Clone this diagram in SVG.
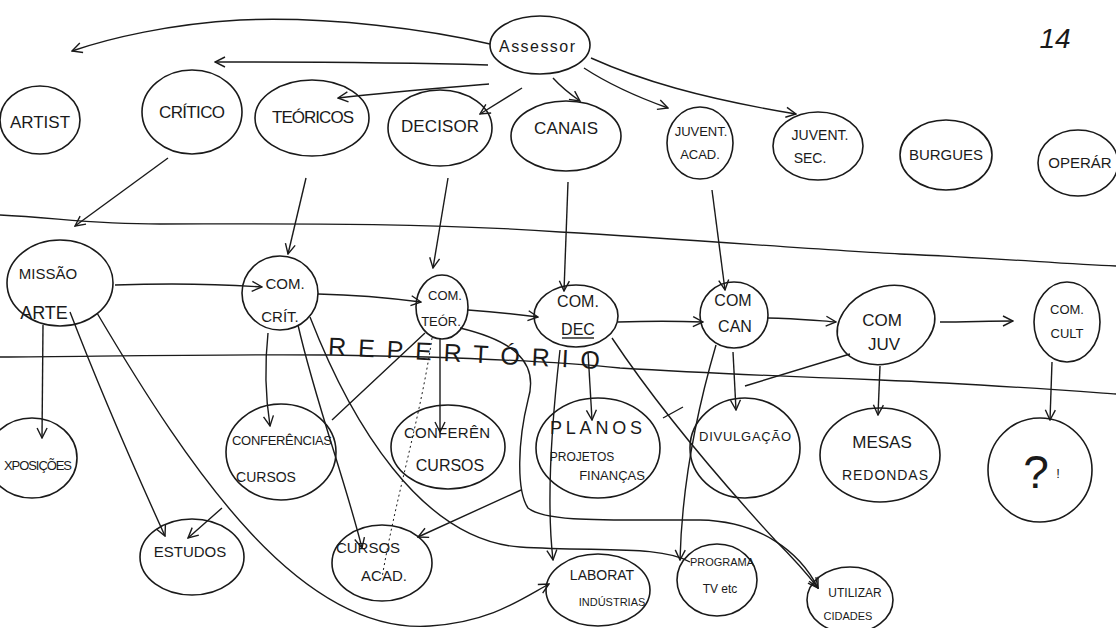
<svg xmlns="http://www.w3.org/2000/svg" width="1116" height="628" viewBox="0 0 1116 628">
<defs>
<marker id="ah" viewBox="0 0 12 12" refX="11" refY="6" markerWidth="12" markerHeight="12" markerUnits="userSpaceOnUse" orient="auto">
<path d="M1,1 L11,6 L1,11" fill="none" stroke="#1a1a1a" stroke-width="1.4"/>
</marker>
</defs>
<style>
.n{fill:none;stroke:#1a1a1a;stroke-width:1.6}
.c{fill:none;stroke:#1a1a1a;stroke-width:1.4}
.a{marker-end:url(#ah)}
.d{stroke-dasharray:2 3;stroke-width:1}
.r{fill:none;stroke:#1a1a1a;stroke-width:1.3}
text{font-family:"Liberation Sans","DejaVu Sans",sans-serif;fill:#1a1a1a;text-anchor:middle}
</style>
<rect width="1116" height="628" fill="#ffffff"/>
<text x="1055" y="48" font-size="28" font-style="italic">14</text>
<g id="rules">
<path class="r" d="M0,215 C60,218 90,224 160,224 C260,224 420,222 560,232 C700,240 820,250 900,254 C1000,258 1060,264 1116,266"/>
<path class="r" d="M0,357 C120,356 240,354 330,355 C460,357 560,362 620,368 C720,374 800,377 880,380 C980,384 1060,390 1116,394"/>
<text x="464" y="362" font-size="25" textLength="272" lengthAdjust="spacing" transform="rotate(3 464 355)">REPERTÓRIO</text>
</g>
<g id="connectors">
<path class="c a" d="M490,44 C430,30 330,16 240,20 C170,24 110,38 72,51"/>
<path class="c a" d="M488,65 C420,63 300,62 215,62"/>
<path class="c a" d="M489,84 C440,88 390,92 338,98"/>
<path class="c a" d="M522,88 L480,114"/>
<path class="c a" d="M553,78 C562,88 570,94 580,101"/>
<path class="c a" d="M584,68 C610,85 640,98 668,108"/>
<path class="c a" d="M591,58 C640,80 700,98 796,114"/>
<path class="c a" d="M168,158 L75,226"/>
<path class="c a" d="M306,178 L288,254"/>
<path class="c a" d="M448,178 L433,268"/>
<path class="c a" d="M568,182 L564,291"/>
<path class="c a" d="M712,190 L725,290"/>
<path class="c a" d="M115,285 C170,283 220,284 262,287"/>
<path class="c a" d="M318,294 C360,295 390,298 421,302"/>
<path class="c a" d="M468,310 C495,312 515,314 538,317"/>
<path class="c a" d="M618,322 C650,321 675,321 703,322"/>
<path class="c a" d="M768,318 C790,318 810,320 836,322"/>
<path class="c a" d="M940,322 C965,322 990,321 1013,321"/>
<path class="c a" d="M43,325 L42,438"/>
<path class="c a" d="M70,312 C100,390 135,470 165,536"/>
<path class="c a" d="M97,313 C190,470 300,635 430,626 C490,622 520,600 549,584"/>
<path class="c a" d="M268,333 C264,370 266,400 270,426"/>
<path class="c a" d="M298,325 C315,400 345,480 362,548"/>
<path class="c" d="M310,317 C350,420 420,540 520,547 C600,552 660,545 690,562"/>
<path class="c a" d="M440,338 L440,432"/>
<path class="c a" d="M425,333 L332,420 M222,508 L188,538"/>
<path class="c d" d="M432,338 C420,420 395,500 382,578"/>
<path class="c a" d="M460,328 C510,340 540,360 528,400 C518,440 516,490 528,508 C545,522 600,520 700,520 C760,521 800,552 818,588"/>
<path class="c a" d="M560,350 C552,420 546,500 553,560"/>
<path class="c a" d="M588,352 L592,420"/>
<path class="c a" d="M612,338 C660,410 720,480 775,540 C795,560 808,575 818,588"/>
<path class="c a" d="M716,345 C700,400 682,480 680,560"/>
<path class="c a" d="M733,352 L736,410"/>
<path class="c a" d="M850,354 L745,386 M683,407 L663,418 M521,490 L418,537"/>
<path class="c a" d="M880,366 L878,415"/>
<path class="c a" d="M1052,362 L1050,420"/>
</g>
<g id="assessor"><ellipse class="n" cx="540" cy="45" rx="50" ry="29"/><text x="537" y="52" font-size="16" textLength="76">Assessor</text></g>
<g id="artist"><ellipse class="n" cx="40" cy="120" rx="40" ry="34"/><text x="40" y="128" font-size="17">ARTIST</text></g>
<g id="criticos"><ellipse class="n" cx="192" cy="112" rx="50" ry="42"/><text x="192" y="118" font-size="17" textLength="66">CRÍTICO</text></g>
<g id="teoricos"><ellipse class="n" cx="312" cy="118" rx="57" ry="38"/><text x="313" y="123" font-size="17" textLength="82">TEÓRICOS</text></g>
<g id="decisor"><ellipse class="n" cx="440" cy="128" rx="52" ry="38"/><text x="440" y="132" font-size="17" textLength="78">DECISOR</text></g>
<g id="canais"><ellipse class="n" cx="566" cy="136" rx="55" ry="35"/><text x="566" y="134" font-size="17" textLength="64">CANAIS</text></g>
<g id="juvent-acad"><ellipse class="n" cx="700" cy="143" rx="33" ry="36"/><text x="701" y="136" font-size="13">JUVENT.</text><text x="700" y="159" font-size="13">ACAD.</text></g>
<g id="juvent-sec"><ellipse class="n" cx="818" cy="146" rx="45" ry="34"/><text x="820" y="140" font-size="14">JUVENT.</text><text x="810" y="163" font-size="14">SEC.</text></g>
<g id="burgues"><ellipse class="n" cx="946" cy="155" rx="46" ry="35"/><text x="946" y="160" font-size="15">BURGUES</text></g>
<g id="operar"><ellipse class="n" cx="1078" cy="163" rx="40" ry="33"/><text x="1080" y="168" font-size="15">OPERÁR</text></g>
<g id="com-arte"><ellipse class="n" cx="60" cy="283" rx="53" ry="43"/><text x="48" y="279" font-size="15">MISSÃO</text><text x="44" y="319" font-size="18">ARTE</text></g>
<g id="com-crit"><ellipse class="n" cx="280" cy="293" rx="38" ry="37"/><text x="285" y="289" font-size="15">COM.</text><text x="280" y="322" font-size="15">CRÍT.</text></g>
<g id="com-teor"><ellipse class="n" cx="442" cy="307" rx="26" ry="32"/><text x="445" y="300" font-size="13">COM.</text><text x="441" y="326" font-size="13">TEÓR.</text></g>
<g id="com-dec"><ellipse class="n" cx="576" cy="316" rx="42" ry="31"/><text x="578" y="307" font-size="16">COM.</text><text x="578" y="335" font-size="16">DEC</text><path class="c" d="M562,338 L594,338"/></g>
<g id="com-can"><ellipse class="n" cx="734" cy="315" rx="34" ry="33"/><text x="733" y="306" font-size="16">COM</text><text x="735" y="332" font-size="16">CAN</text></g>
<g id="com-juv"><ellipse class="n" cx="886" cy="325" rx="50" ry="38" transform="rotate(-20 886 325)"/><text x="882" y="326" font-size="17">COM</text><text x="884" y="350" font-size="17">JUV</text></g>
<g id="com-cult"><ellipse class="n" cx="1067" cy="322" rx="33" ry="40"/><text x="1067" y="314" font-size="13">COM.</text><text x="1067" y="338" font-size="13">CULT</text></g>
<g id="exposicoes"><ellipse class="n" cx="32" cy="458" rx="45" ry="40"/><text x="38" y="470" font-size="13" textLength="68">XPOSIÇÕES</text></g>
<g id="conf-cursos-1"><ellipse class="n" cx="281" cy="452" rx="55" ry="48"/><text x="282" y="445" font-size="13" textLength="100">CONFERÊNCIAS</text><text x="266" y="482" font-size="14">CURSOS</text></g>
<g id="conf-cursos-2"><ellipse class="n" cx="448" cy="447" rx="57" ry="42"/><text x="447" y="438" font-size="15" textLength="86">CONFERÊN</text><text x="450" y="471" font-size="16">CURSOS</text></g>
<g id="planos"><ellipse class="n" cx="598" cy="448" rx="62" ry="50"/><text x="596" y="434" font-size="18" textLength="92">PLANOS</text><text x="582" y="461" font-size="12">PROJETOS</text><text x="612" y="480" font-size="13">FINANÇAS</text></g>
<g id="divulgacao"><ellipse class="n" cx="745" cy="448" rx="55" ry="50"/><text x="745" y="441" font-size="13" textLength="92">DIVULGAÇÃO</text></g>
<g id="mesas"><ellipse class="n" cx="880" cy="455" rx="60" ry="47"/><text x="882" y="448" font-size="17">MESAS</text><text x="885" y="480" font-size="14" textLength="86">REDONDAS</text></g>
<g id="interrogacao"><ellipse class="n" cx="1040" cy="470" rx="52" ry="52"/><text x="1036" y="488" font-size="46">?</text><text x="1058" y="478" font-size="13">!</text></g>
<g id="estudos"><ellipse class="n" cx="192" cy="557" rx="52" ry="38"/><text x="190" y="557" font-size="15">ESTUDOS</text></g>
<g id="cursos-acad"><ellipse class="n" cx="382" cy="563" rx="50" ry="38"/><text x="368" y="553" font-size="15">CURSOS</text><text x="384" y="581" font-size="15">ACAD.</text></g>
<g id="laborat"><ellipse class="n" cx="598" cy="590" rx="52" ry="36"/><text x="602" y="580" font-size="14">LABORAT</text><text x="612" y="606" font-size="11">INDÚSTRIAS</text></g>
<g id="programa"><ellipse class="n" cx="717" cy="580" rx="40" ry="36"/><text x="722" y="566" font-size="11">PROGRAMA</text><text x="720" y="593" font-size="12">TV etc</text></g>
<g id="utilizar"><ellipse class="n" cx="850" cy="600" rx="43" ry="33"/><text x="855" y="597" font-size="12">UTILIZAR</text><text x="848" y="620" font-size="11">CIDADES</text></g>
</svg>
